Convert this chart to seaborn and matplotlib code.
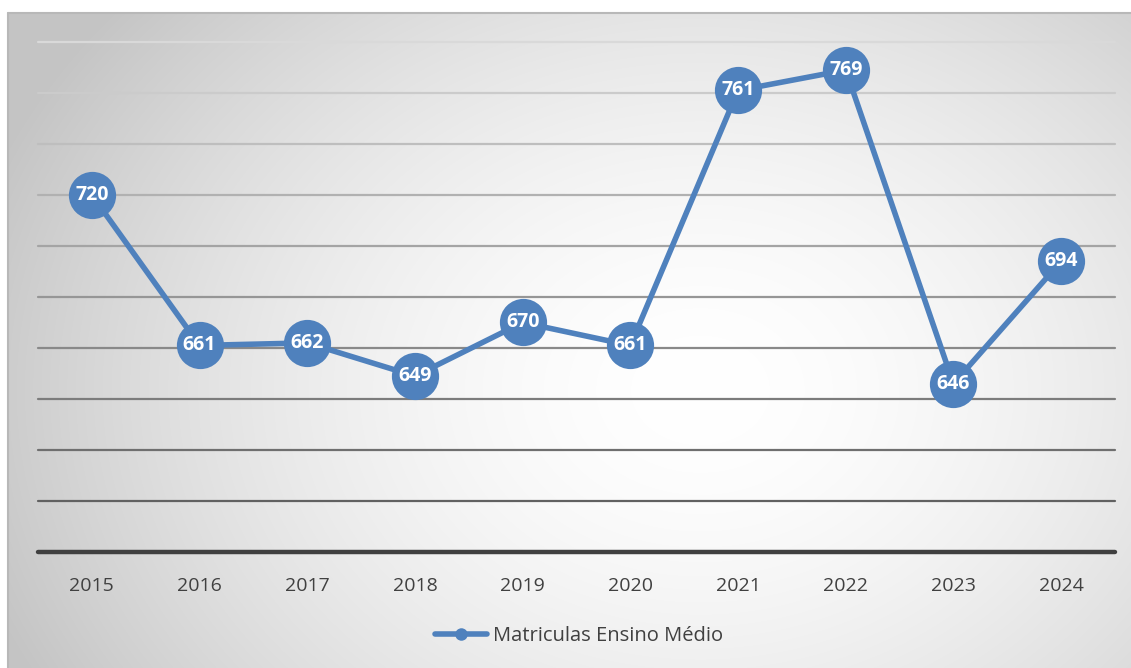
import numpy as np
import pandas as pd
import matplotlib
matplotlib.use("Agg")
import matplotlib.pyplot as plt
from matplotlib.lines import Line2D
import seaborn as sns

years = ["2015", "2016", "2017", "2018", "2019", "2020", "2021", "2022", "2023", "2024"]
matriculas = [720, 661, 662, 649, 670, 661, 761, 769, 646, 694]
series_name = "Matriculas Ensino Médio"

y_min, y_max, y_step = 580, 780, 20

BLUE = "#4f81bd"
TEXT = "#404040"

sns.set_theme(style="white")
plt.rcParams["font.family"] = ["Open Sans", "DejaVu Sans"]

W, H, DPI = 1131, 668, 100
fig = plt.figure(figsize=(W / DPI, H / DPI), dpi=DPI)
fig.patch.set_facecolor("white")

# Radial grey-to-white gradient panel behind the chart
px0, py0 = 8, 13
bg = fig.add_axes([px0 / W, 0, 1 - px0 / W, (H - py0) / H])
gx = np.arange(px0, W)
gy = np.arange(py0, H)
XX, YY = np.meshgrid(gx, gy)
cx, cy = 700, 390
r = np.sqrt(((XX - cx) / 760.0) ** 2 + ((YY - cy) / 600.0) ** 2)
r = np.clip(r, 0, 1)
shade = 1.0 - (1.0 - 0.77) * r ** 1.7
img = np.dstack([shade, shade, shade])
bg.imshow(img, aspect="auto", extent=[0, 1, 0, 1], interpolation="bilinear")
bg.set_xlim(0, 1)
bg.set_ylim(0, 1)
bg.axis("off")
bg.plot([0, 1], [1, 1], color="#b8b8b8", lw=1.5, transform=bg.transAxes, clip_on=False)
bg.plot([0, 0], [0, 1], color="#b8b8b8", lw=1.5, transform=bg.transAxes, clip_on=False)

ax = fig.add_axes([38 / W, (H - 552) / H, (1115 - 38) / W, (552 - 42) / H])
ax.patch.set_alpha(0)

# Horizontal gridlines, lighter at the top and darker towards the base
levels = np.arange(y_min, y_max + y_step, y_step)
for lv in levels:
    t = (lv - y_min) / (y_max - y_min)
    if lv == y_min:
        ax.axhline(lv, color="#404040", lw=3.2, zorder=1, clip_on=False)
    else:
        g = 0.33 + 0.52 * t
        ax.axhline(lv, color=(g, g, g), lw=1.6, zorder=1, clip_on=False)

df = pd.DataFrame({"pos": np.arange(len(years)), "valor": matriculas})
sns.lineplot(data=df, x="pos", y="valor", ax=ax, color=BLUE, lw=4.0,
             marker="o", markersize=34, markeredgewidth=0,
             markerfacecolor=BLUE, zorder=3, legend=False)

for i, v in enumerate(matriculas):
    ax.text(i, v, str(v), ha="center", va="center", color="white",
            fontsize=14, fontweight="bold", zorder=4)

ax.set_xlim(-0.5, len(years) - 0.5)
ax.set_ylim(y_min, y_max)
ax.set_xticks(range(len(years)))
ax.set_xticklabels(years, color=TEXT, fontsize=14)
ax.set_yticks([])
ax.tick_params(axis="x", length=0, pad=18)
ax.set_xlabel("")
ax.set_ylabel("")
for s in ax.spines.values():
    s.set_visible(False)

handle = Line2D([], [], color=BLUE, lw=4.0, marker="o", markersize=9,
                markerfacecolor=BLUE, markeredgewidth=0)
fig.legend([handle], [series_name], loc="center", bbox_to_anchor=(0.512, (H - 636) / H),
           frameon=False, fontsize=14.5, handlelength=2.6, handletextpad=0.3,
           labelcolor=TEXT)

fig.savefig("out.png", dpi=DPI)
